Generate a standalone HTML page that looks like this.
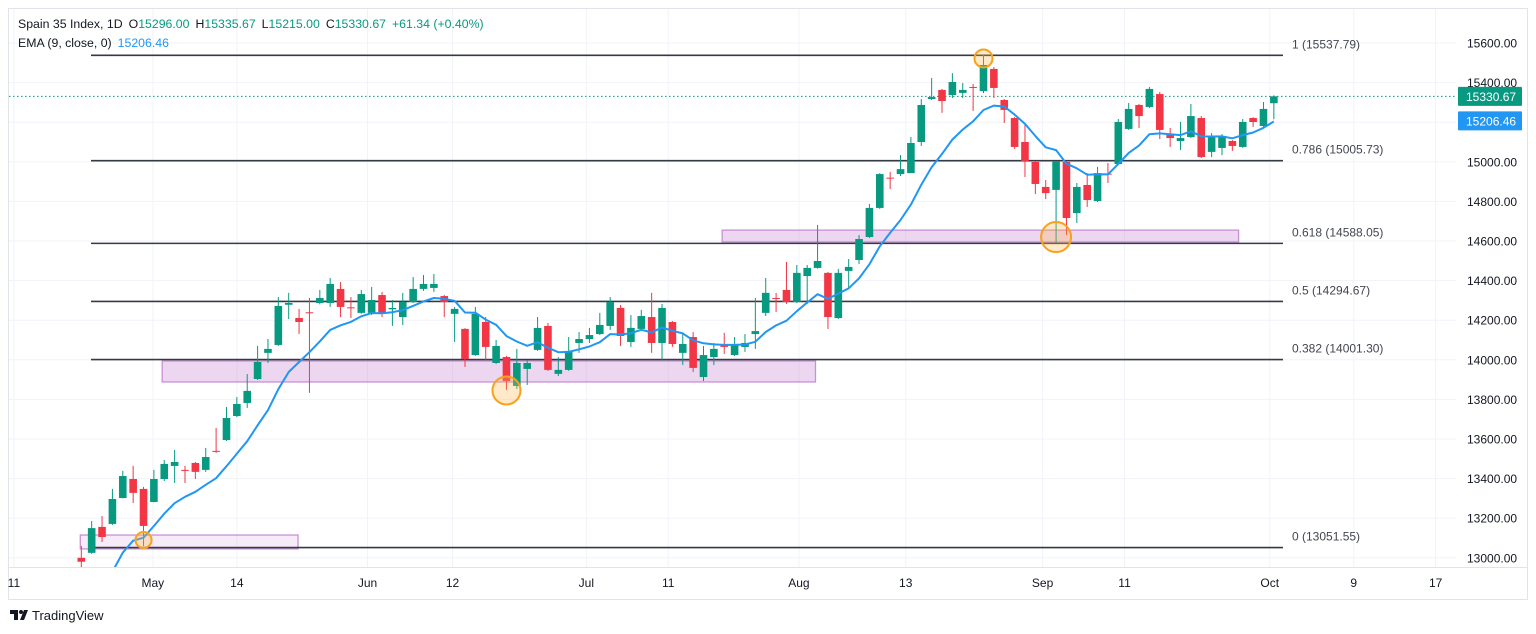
<!DOCTYPE html>
<html><head><meta charset="utf-8">
<style>
html,body{margin:0;padding:0;background:#fff;width:1536px;height:634px;overflow:hidden;font-family:"Liberation Sans",Arial,sans-serif;}
svg{position:absolute;left:0;top:0;}
</style></head>
<body>
<svg id="chart" width="1536" height="634" viewBox="0 0 1536 634" xmlns="http://www.w3.org/2000/svg"></svg>
<script>
// ---- data ----
const opens  = [13000,13025,13156,13171,13302,13398,13348,13282,13398,13464,13444,13479,13444,13540,13595,13716,13782,13903,14035,14075,14278,14211,14240,14287,14287,14358,14265,14237,14237,14327,14255,14216,14292,14358,14363,14322,14232,14156,14024,14191,13984,14014,13868,13954,14050,14171,13929,13949,14085,14105,14130,14171,14262,14090,14156,14216,14085,14191,14035,14115,13913,14014,14080,14024,14065,14130,14237,14312,14353,14292,14423,14464,14439,14211,14449,14504,14620,14767,14920,14938,14943,15100,15317,15363,15337,15348,15378,15357,15469,15312,15221,15100,14999,14873,14858,14999,14741,14883,14802,14940,14989,15166,15287,15277,15342,15135,15105,15125,15221,15050,15070,15105,15075,15221,15181,15296];
const highs  = [13060,13186,13211,13348,13439,13464,13358,13444,13494,13545,13464,13484,13555,13656,13762,13812,13928,14070,14105,14317,14338,14257,14312,14353,14413,14393,14317,14353,14368,14343,14302,14338,14418,14428,14433,14327,14267,14160,14267,14216,14100,14020,14055,13999,14216,14186,14014,14115,14140,14161,14237,14317,14277,14226,14252,14338,14282,14196,14130,14140,14070,14085,14136,14115,14130,14312,14413,14338,14494,14479,14479,14681,14444,14459,14509,14630,14787,14943,14949,15034,15125,15317,15423,15368,15448,15398,15393,15540,15479,15317,15226,15196,15004,14908,15004,15004,14893,14943,14974,14994,15216,15297,15292,15378,15353,15171,15201,15292,15231,15145,15140,15110,15216,15226,15302,15335.67];
const lows   = [12940,13020,13080,13166,13300,13277,13060,13280,13388,13378,13378,13398,13434,13530,13590,13711,13757,13898,13984,14070,14206,14130,13833,14280,14267,14216,14211,14232,14226,14216,14171,14176,14287,14348,14343,14216,14090,13964,14020,14000,13979,13848,13853,13873,14045,13944,13918,13944,14035,14085,14125,14151,14070,14065,14150,14035,14000,14065,13974,13939,13893,13974,14030,14019,14040,14055,14221,14242,14282,14287,14282,14460,14156,14206,14363,14484,14615,14762,14863,14928,14943,15080,15312,15247,15322,15322,15257,15347,15322,15196,15065,14923,14837,14812,14590,14630,14691,14772,14797,14893,14984,15161,15171,15272,15115,15075,15060,15120,15019,15024,15034,15055,15070,15176,15171,15215];
const closes = [12980,13150,13105,13297,13413,13328,13161,13398,13474,13484,13439,13434,13509,13535,13706,13777,13843,13989,14055,14272,14287,14191,14235,14312,14383,14267,14260,14332,14302,14232,14262,14292,14358,14383,14383,14292,14257,14004,14232,14065,14070,13893,13984,13984,14161,13949,13949,14045,14105,14125,14176,14292,14120,14161,14221,14085,14262,14080,14080,13959,14024,14055,14065,14075,14085,14145,14338,14307,14292,14439,14464,14499,14216,14439,14469,14610,14767,14938,14915,14963,15095,15287,15327,15307,15403,15363,15373,15489,15373,15262,15075,15004,14888,14842,15004,14716,14873,14807,14943,14935,15201,15267,15231,15368,15161,15120,15120,15231,15024,15125,15130,15080,15201,15201,15267,15330.67];
const emaSeed = 12600;
const priceTicks = [13000,13200,13400,13600,13800,14000,14200,14400,14600,14800,15000,15200,15400,15600];
const dateLabels = ["11","May","14","Jun","12","Jul","11","Aug","13","Sep","11","Oct","9","17"];
const dateIdx    = [-6.5,6.9,15,27.6,35.8,48.7,56.6,69.2,79.5,92.7,100.6,114.6,122.7,130.6];
const fibLevels  = [1,0.786,0.618,0.5,0.382,0];
const fibPrices  = [15537.79,15005.73,14588.05,14294.67,14001.30,13051.55];
const zoneIdxStart=[-0.1,7.8,61.8]; const zoneIdxEnd=[20.9,70.8,111.6];
const zoneTop=[13115,13994,14655]; const zoneBot=[13045,13888,14595];
const circIdx=[6,41,87,94]; const circPrice=[13090,13845,15522,14620]; const circR=[8,14,9,15];
const lastClose = 15330.67;

// ---- axes ----
const X0=81.3, DX=10.37;
const xs = i => X0 + i*DX;
const ys = p => 43 + (15600-p)*0.198;
const svg=document.getElementById('chart');
const NS='http://www.w3.org/2000/svg';
function mk(tag, attrs, parent){const e=document.createElementNS(NS,tag);for(const k in attrs)e.setAttribute(k,attrs[k]);(parent||svg).appendChild(e);return e;}

const frame=mk('rect',{x:8.5,y:8.5,width:1519,height:591,fill:'none',stroke:'#e0e3eb'});



const clip=mk('clipPath',{id:'plotclip'});
mk('rect',{x:9,y:9,width:1447,height:558},clip);

const grid=mk('g',{});


priceTicks.forEach(p=>{mk('line',{x1:9,x2:1456,y1:ys(p),y2:ys(p),stroke:'#f0f3fa','stroke-width':1},grid);});
dateIdx.forEach(d=>{mk('line',{x1:xs(d),x2:xs(d),y1:9,y2:567,stroke:'#f0f3fa','stroke-width':1},grid);});

const plot=mk('g',{'clip-path':'url(#plotclip)'});



zoneTop.forEach((t,i)=>{
  const r=mk('rect',{x:xs(zoneIdxStart[i]),y:ys(t),width:xs(zoneIdxEnd[i])-xs(zoneIdxStart[i]),height:ys(zoneBot[i])-ys(t),fill:i==0?'rgba(206,147,216,0.18)':'rgba(206,147,216,0.38)',stroke:'#c990d6','stroke-width':1.3},plot);
  
  
});

fibPrices.forEach((p,i)=>{
  const l=mk('line',{x1:91,x2:1283,y1:ys(p),y2:ys(p),stroke:'#363a45','stroke-width':1.6},plot);
  
  
  const t=mk('text',{x:1292,y:ys(p)-7,'font-size':12,fill:'#434651','font-family':'Liberation Sans, sans-serif'},plot);
  t.textContent=fibLevels[i]+' ('+p.toFixed(2)+')';
  
  
});

const cl=mk('line',{x1:9,x2:1456,y1:ys(lastClose),y2:ys(lastClose),stroke:'#089981','stroke-width':1,'stroke-dasharray':'1.5 2.5'},plot);



closes.forEach((c,i)=>{
  const o=opens[i],h=highs[i],l=lows[i];
  const col=c>=o?'#089981':'#f23645';
  const g=mk('g',{},plot);
  
  
  const x=xs(i);
  mk('line',{x1:x,x2:x,y1:ys(h),y2:ys(l),stroke:col,'stroke-width':1},g);
  const top=ys(Math.max(o,c)), bot=ys(Math.min(o,c));
  mk('rect',{x:x-3.8,y:top,width:7.6,height:Math.max(1,bot-top),fill:col},g);
});

let e=emaSeed; const k=2/10; let pts=[];
closes.forEach((c,i)=>{e=c*k+e*(1-k);pts.push(xs(i).toFixed(1)+','+ys(e).toFixed(1));});
const emaLine=mk('polyline',{points:pts.join(' '),fill:'none',stroke:'#2196f3','stroke-width':2,'stroke-linejoin':'round'},plot);



circIdx.forEach((ci,i)=>{
  const c=mk('circle',{cx:xs(ci),cy:ys(circPrice[i]),r:circR[i],fill:'rgba(255,183,77,0.3)',stroke:'#f7a21b','stroke-width':2},plot);
  
  
});

const xa=mk('line',{x1:9,x2:1527,y1:567.5,y2:567.5,stroke:'#e0e3eb'});


dateLabels.forEach((d,i)=>{
  const t=mk('text',{x:xs(dateIdx[i]),y:587,'font-size':12,fill:'#131722','text-anchor':'middle'});
  t.textContent=d;
  
  
});
priceTicks.forEach(p=>{
  const t=mk('text',{x:1467,y:ys(p)+4.5,'font-size':12,fill:'#131722'});
  t.textContent=p.toFixed(2);
  
  
});

function tag(p,val,col,name){
  const g=mk('g',{});
  
  
  mk('rect',{x:1458,y:ys(p)-9.5,width:64,height:19,fill:col,rx:1},g);
  const t=mk('text',{x:1466,y:ys(p)+4.5,'font-size':12,fill:'#fff'},g);
  t.textContent=val.toFixed(2);
}
tag(lastClose,lastClose,'#089981','last-price-tag');
tag(15206.46,15206.46,'#2196f3','ema-value-tag');

const h1=mk('text',{x:18,y:28,'font-size':12.3,fill:'#131722'});


h1.innerHTML='<tspan>Spain 35 Index, 1D</tspan><tspan dx="6">O</tspan><tspan fill="#089981">15296.00</tspan><tspan dx="6">H</tspan><tspan fill="#089981">15335.67</tspan><tspan dx="6">L</tspan><tspan fill="#089981">15215.00</tspan><tspan dx="6">C</tspan><tspan fill="#089981">15330.67</tspan><tspan dx="6" fill="#089981">+61.34 (+0.40%)</tspan>';
const h2=mk('text',{x:18,y:47,'font-size':12.3,fill:'#131722'});


h2.innerHTML='<tspan>EMA (9, close, 0)</tspan><tspan dx="6" fill="#2196f3">15206.46</tspan>';

const lg=mk('g',{});


mk('path',{d:'M10 610 h8 v10 h-4 v-6 h-4 z',fill:'#131722'},lg);
mk('circle',{cx:21,cy:612,r:2,fill:'#131722'},lg);
mk('path',{d:'M24 610 h4 l-4 10 h-4 z',fill:'#131722'},lg);
const lt=mk('text',{x:32,y:620,'font-size':13,fill:'#131722'},lg);
lt.textContent='TradingView';
</script>
</body></html>
